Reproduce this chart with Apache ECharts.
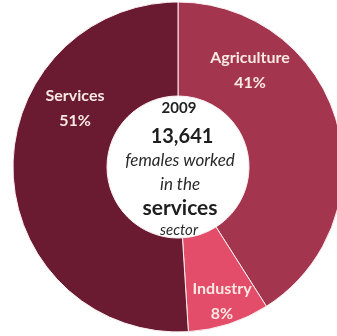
<!DOCTYPE html>
<html>
<head>
<meta charset="utf-8">
<script src="https://cdn.jsdelivr.net/npm/echarts@6/dist/echarts.min.js"></script>
<style>
  html, body { margin: 0; padding: 0; background: #ffffff; }
  #chart { width: 337px; height: 336px; }
</style>
</head>
<body>
<div id="chart"></div>
<script>
// Female employment by sector, 2009
const sectors = ['Agriculture', 'Industry', 'Services'];
const shares = [41, 8, 51];
const sectorColors = ['#a3354f', '#e34d6a', '#6a1b31'];

// Centre caption
const captionYear = '2009';
const servicesWorkers = 13641;
const captionLines = ['females worked', 'in the', 'services', 'sector'];

// Where each sector's label sits (px, label centre)
const labelSpots = [[250, 70], [222, 301], [75, 108]];

const cx = 178, cy = 167;
const font = 'Lato, "Open Sans", sans-serif';

const chart = echarts.init(document.getElementById('chart'), null, { renderer: 'canvas' });

chart.setOption({
  backgroundColor: '#ffffff',
  animation: false,
  series: [{
    type: 'pie',
    center: [cx, cy],
    radius: [71, 165],
    startAngle: 90,
    clockwise: true,
    avoidLabelOverlap: false,
    itemStyle: { borderColor: '#fbeeee', borderWidth: 1 },
    label: {
      show: true,
      position: 'inside',
      formatter: p => p.name + '\n' + p.value + '%',
      color: '#f9e9e2',
      fontFamily: font,
      fontWeight: 'bold',
      fontSize: 16,
      lineHeight: 25,
      align: 'center'
    },
    labelLayout: p => ({
      x: labelSpots[p.dataIndex][0],
      y: labelSpots[p.dataIndex][1],
      align: 'center',
      verticalAlign: 'middle'
    }),
    labelLine: { show: false },
    emphasis: { disabled: true },
    data: sectors.map((s, i) => ({
      name: s,
      value: shares[i],
      itemStyle: { color: sectorColors[i] }
    }))
  }],
  graphic: [
    { type: 'text', x: cx + 1, y: 108, style: { text: captionYear, font: 'bold 15px ' + font, fill: '#222', align: 'center', verticalAlign: 'middle' } },
    { type: 'text', x: cx + 4, y: 137, style: { text: servicesWorkers.toLocaleString('en-US'), font: 'bold 20px ' + font, fill: '#1e1e1e', align: 'center', verticalAlign: 'middle' } },
    { type: 'text', x: cx + 2, y: 161, style: { text: captionLines[0], font: 'italic 17px ' + font, fill: '#2a2a2a', align: 'center', verticalAlign: 'middle' } },
    { type: 'text', x: cx + 2, y: 185, style: { text: captionLines[1], font: 'italic 17px ' + font, fill: '#2a2a2a', align: 'center', verticalAlign: 'middle' } },
    { type: 'text', x: cx + 2, y: 208, style: { text: captionLines[2], font: 'bold 21px ' + font, fill: '#1e1e1e', align: 'center', verticalAlign: 'middle' } },
    { type: 'text', x: cx + 1, y: 230, style: { text: captionLines[3], font: 'italic 15px ' + font, fill: '#2a2a2a', align: 'center', verticalAlign: 'middle' } }
  ]
});
</script>
</body>
</html>
